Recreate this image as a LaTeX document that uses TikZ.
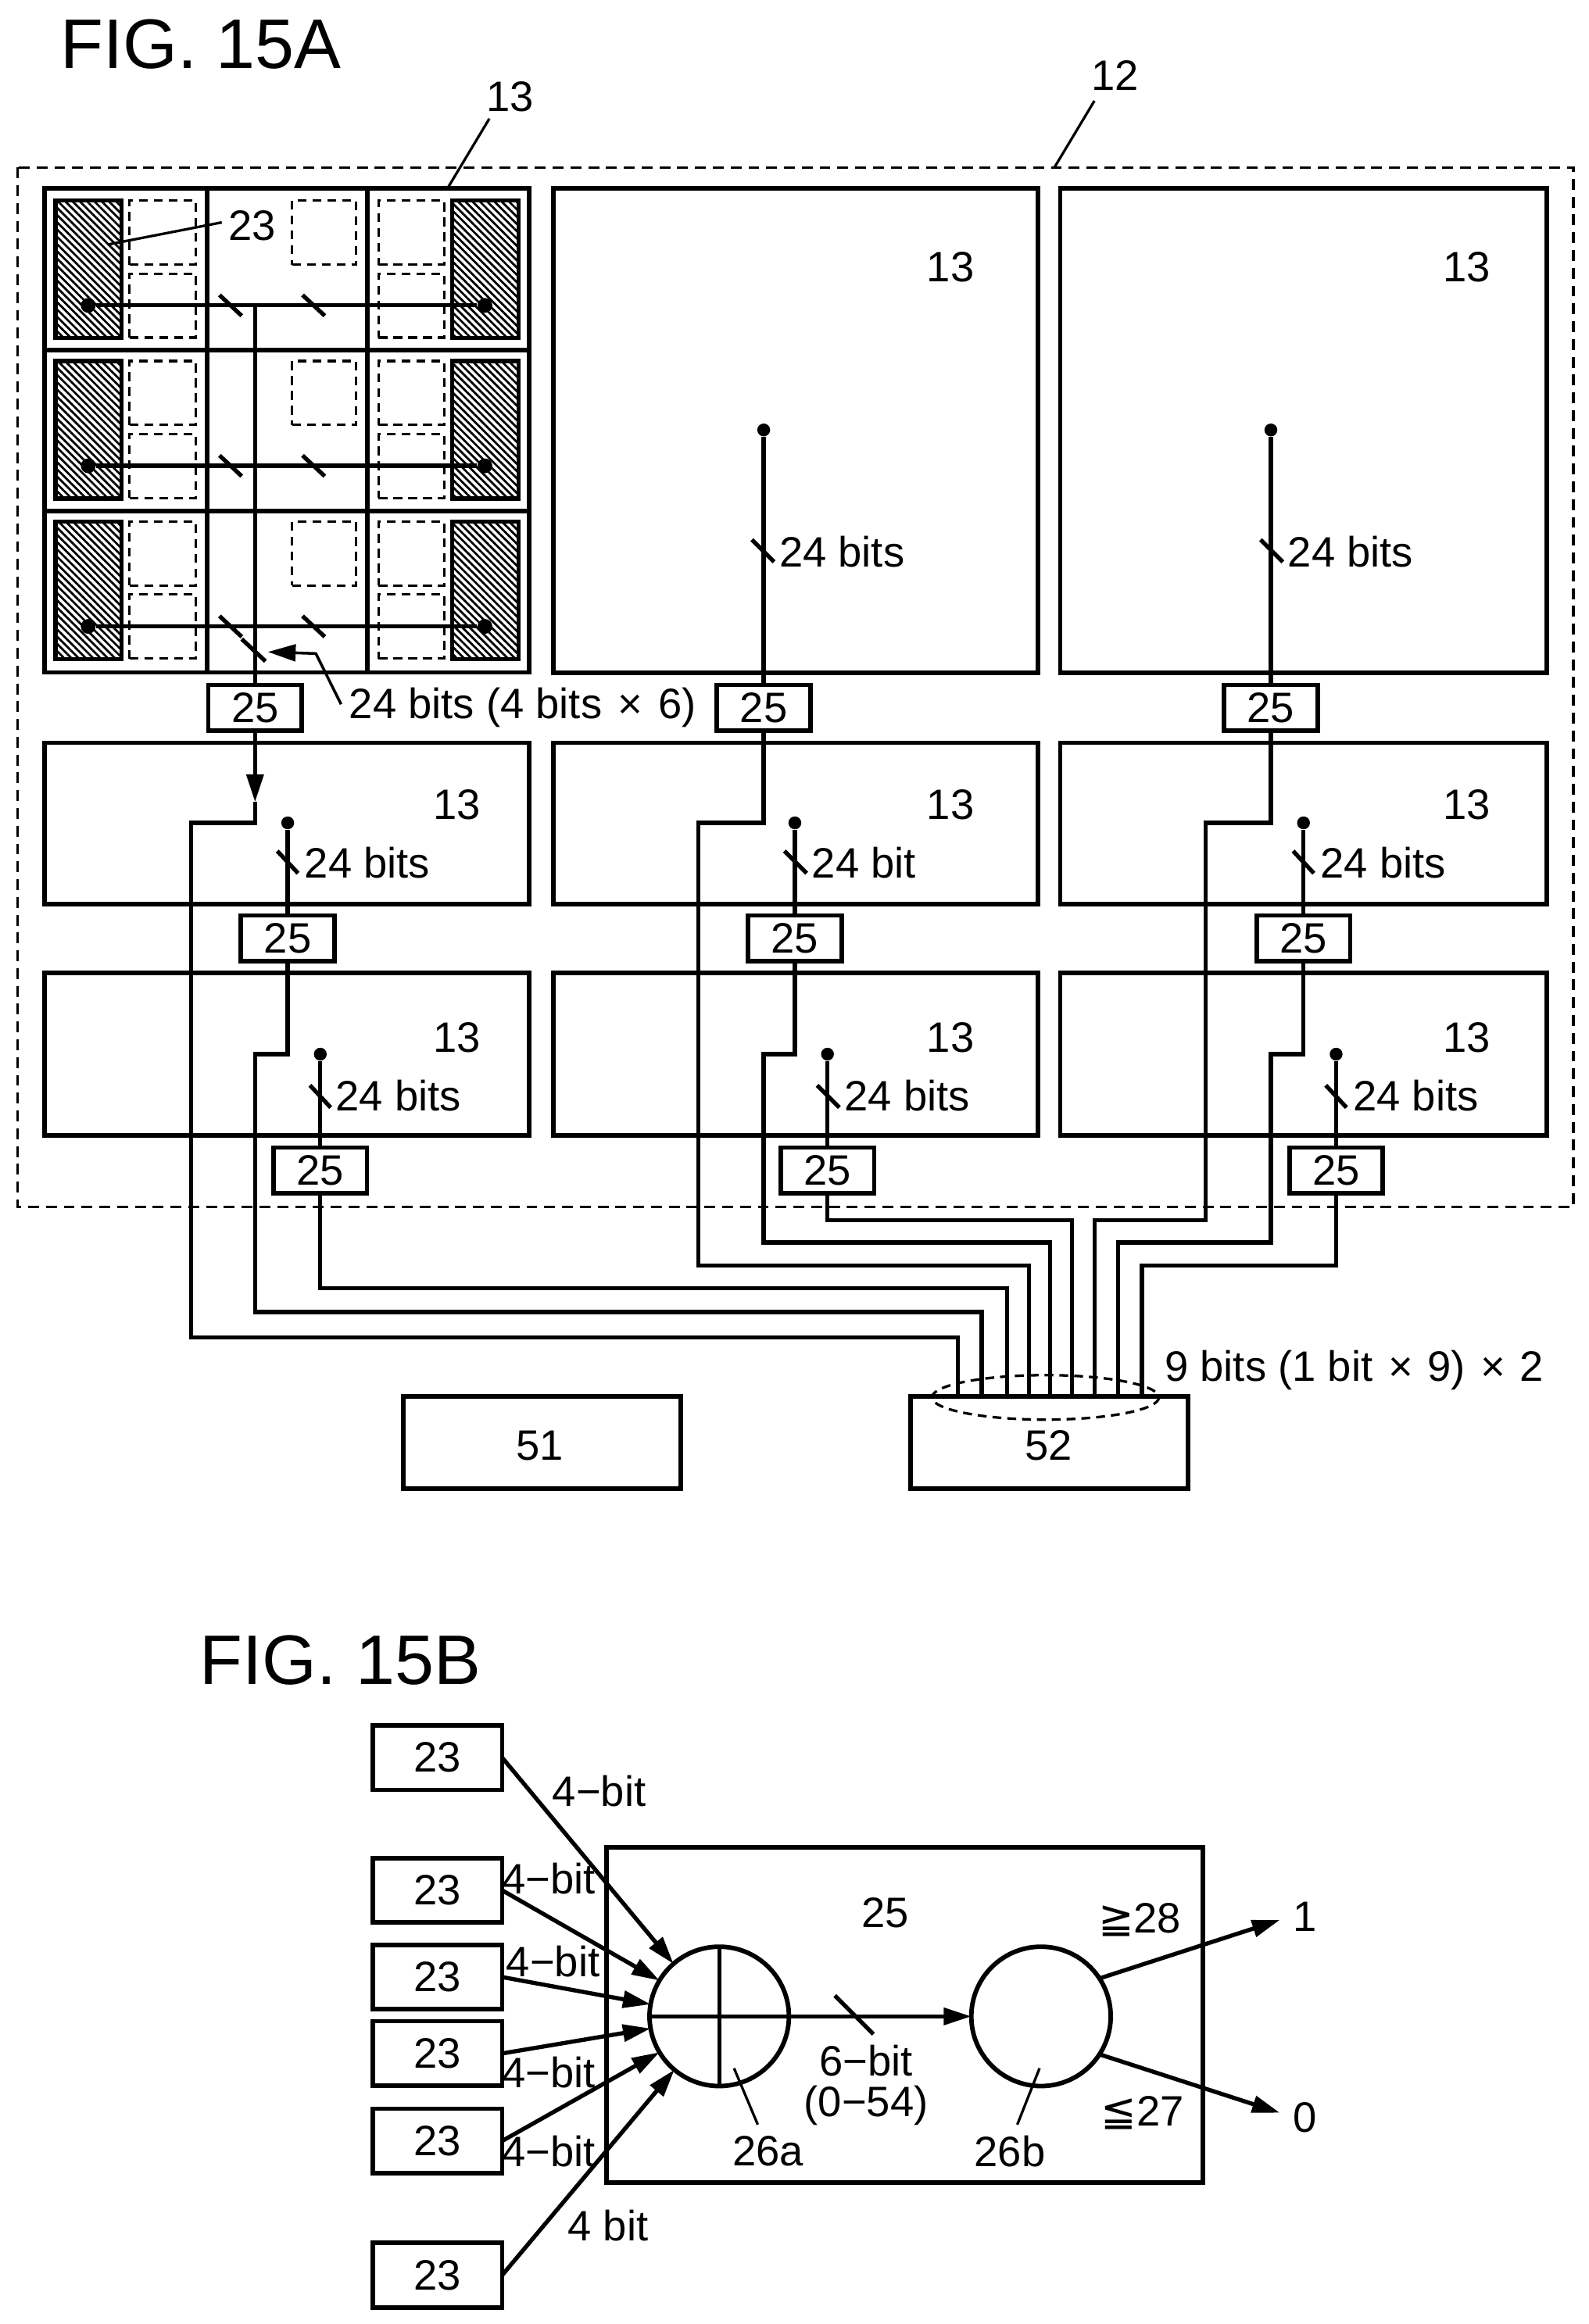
\documentclass[tikz,border=0pt]{standalone}
\usepackage{fontspec}
\setmainfont{Liberation Sans}
\newfontfamily\symfont{DejaVu Sans}
\usetikzlibrary{arrows.meta,patterns.meta}

\tikzset{every picture/.style={line width=0.75pt}}
\tikzset{
  sized/.style 2 args={minimum width=#1*0.75pt,minimum height=#2*0.75pt},
  lbl/.style={inner sep=0pt,font=\fontsize{21.5}{24}\selectfont},
  blockbox/.style={draw,line width=2.3pt,inner sep=0pt,outer sep=0pt,anchor=north west},
  cellbox/.style={lbl,draw,line width=2.3pt,outer sep=0pt,fill=white,minimum width=47.25pt,minimum height=23.25pt},
  srcbox/.style={lbl,draw,line width=2.3pt,outer sep=0pt,minimum width=65.5pt,minimum height=32.6pt},
  hatchbox/.style={draw,line width=2.2pt,inner sep=0pt,outer sep=0pt,anchor=north west,sized={44.6}{92.7},
    pattern={Lines[angle=-45,distance=2.6pt,line width=1.1pt]}},
  ghostbox/.style={draw,line width=1.2pt,dash pattern=on 4.5pt off 3pt,inner sep=0pt,outer sep=0pt,anchor=north west},
  wire/.style={line width=2.1pt},
  leader/.style={line width=1.3pt},
  tickmark/.style={line width=2.1pt},
  sigdot/.style={circle,fill=black,inner sep=0pt,minimum size=6.5pt},
  figtitle/.style={inner sep=0pt,font=\fontsize{35.5}{40}\selectfont},
  headtip/.style={-{Triangle[length=14pt,width=8.5pt]}},
}

\begin{document}
\begin{tikzpicture}[x=0.75pt,y=0.75pt,yscale=-1,xscale=1]
    \useasboundingbox (0,0) rectangle (1071.5,1567.5);

    % FIG. 15A
    \node[figtitle] (titleA) at (135.5,30) {FIG. 15A};
    \draw[ghostbox,line width=1.3pt,dash pattern=on 5.5pt off 3.5pt] (12,113) rectangle (1061,814);
    \node[lbl] (lbl12) at (752,51) {12};
    \node[lbl] (lbl13top) at (344,65) {13};
    \coordinate (lead12) at (711,113);
    \coordinate (lead13) at (302.4,126);
    \draw[leader] (lead12) -- (738,68);
    \draw[leader] (lead13) -- (330,80);

    % first block, cut in three rows
    \node[blockbox,sized={327}{326.5}] (blkA) at (30,127) {};
    \draw[line width=2.3pt] (30,236) -- (357,236);
    \draw[line width=2.3pt] (30,344.7) -- (357,344.7);
    \draw[line width=2.3pt] (139.6,127) -- (139.6,453.5);
    \draw[line width=2.3pt] (247.6,127) -- (247.6,453.5);
    \foreach \r/\dy in {1/0,2/108.2,3/216.5}{
      \node[hatchbox] (hatchL\r) at ({37.4},{135.3+\dy}) {};
      \node[hatchbox] (hatchR\r) at ({305},{135.3+\dy}) {};
      \node[ghostbox,sized={44.6}{43.2}] (ghostLa\r) at ({87.4},{135.3+\dy}) {};
      \node[ghostbox,sized={44.6}{43.2}] (ghostLb\r) at ({87.4},{184.5+\dy}) {};
      \node[ghostbox,sized={43.3}{43.2}] (ghostM\r) at ({197},{135.3+\dy}) {};
      \node[ghostbox,sized={44.2}{43.2}] (ghostRa\r) at ({255.3},{135.3+\dy}) {};
      \node[ghostbox,sized={44.2}{43.2}] (ghostRb\r) at ({255.3},{184.5+\dy}) {};
      \node[sigdot,minimum size=7.5pt] (dotL\r) at ({59.5},{206+\dy}) {};
      \node[sigdot,minimum size=7.5pt] (dotR\r) at ({327},{206+\dy}) {};
      \draw[wire] (dotL\r) -- (dotR\r);
      \draw[tickmark] ({148},{199+\dy}) -- ({163},{213+\dy});
      \draw[tickmark] ({204},{199+\dy}) -- ({219},{213+\dy});
    }
    \draw[tickmark] (163,431) -- (179,446);
    \node[lbl,fill=none] (lbl23) at (170,152) {23};
    \draw[leader] (lbl23.west) ++(-4,-2) -- (72.5,165);

    % remaining blocks
    \node[blockbox,sized={327}{327}] (blkB) at (373,127) {};
    \node[blockbox,sized={328}{327}] (blkC) at (715,127) {};
    \node[blockbox,sized={327}{109}] (blkD) at (30,501) {};
    \node[blockbox,sized={327}{109}] (blkE) at (373,501) {};
    \node[blockbox,sized={328}{109}] (blkF) at (715,501) {};
    \node[blockbox,sized={327}{110}] (blkG) at (30,656) {};
    \node[blockbox,sized={327}{110}] (blkH) at (373,656) {};
    \node[blockbox,sized={328}{110}] (blkJ) at (715,656) {};
    \foreach \n/\x/\y in {a/641/180,b/989/180,c/308/543,d/641/543,e/989/543,f/308/700,g/641/700,h/989/700}
      \node[lbl] (lbl13\n) at (\x,\y) {13};

    % threshold cells
    \node[cellbox] (cellA) at (172,477.5) {25};
    \node[cellbox] (cellB) at (515,477.5) {25};
    \node[cellbox] (cellC) at (857,477.5) {25};
    \node[cellbox] (cellD) at (194,633) {25};
    \node[cellbox] (cellE) at (536,633) {25};
    \node[cellbox] (cellF) at (879,633) {25};
    \node[cellbox] (cellG) at (216,789.5) {25};
    \node[cellbox] (cellH) at (558,789.5) {25};
    \node[cellbox] (cellJ) at (901,789.5) {25};
    \foreach \n/\x/\y in {B/515/290,C/857/290,D/194/555,E/536/555,F/879/555,G/216/711,H/558/711,J/901/711}{
      \node[sigdot] (src\n) at (\x,\y) {};
      \draw[wire] (src\n) -- (cell\n);
    }
    \coordinate (trunkTop) at (172,206);
    \draw[wire] (trunkTop) -- (cellA);

    % bit count labels
    \draw[tickmark] (507,364) -- (522,379);
    \draw[tickmark] (850,364) -- (865,379);
    \node[lbl,anchor=west] (bitsB) at (525,372) {24 bits};
    \node[lbl,anchor=west] (bitsC) at (868,372) {24 bits};
    \draw[tickmark] (187,574) -- (201,589);
    \draw[tickmark] (529,574) -- (544,589);
    \draw[tickmark] (872,574) -- (886,589);
    \node[lbl,anchor=west] (bitsD) at (205,582) {24 bits};
    \node[lbl,anchor=west] (bitsE) at (547,582) {24 bit};
    \node[lbl,anchor=west] (bitsF) at (890,582) {24 bits};
    \draw[tickmark] (209,732) -- (223,747);
    \draw[tickmark] (551,732) -- (566,747);
    \draw[tickmark] (894,732) -- (908,747);
    \node[lbl,anchor=west] (bitsG) at (226,739) {24 bits};
    \node[lbl,anchor=west] (bitsH) at (569,739) {24 bits};
    \node[lbl,anchor=west] (bitsJ) at (912,739) {24 bits};
    \node[lbl,anchor=west] (bitsSum) at (235,477) {24 bits (4 bits\hspace{8pt}×\hspace{8pt}6)};
    \coordinate (bitsTip) at (180.7,439.7);
    \draw[leader,line width=1.4pt,headtip] (230,475) -- (213,440.8) -- (bitsTip);

    % collector and lines into it
    \node[blockbox,sized={187}{62}] (collect) at (614,942) {};
    \node[lbl] (lbl52) at (707,975) {52};
    \node[blockbox,sized={187}{62}] (unit51) at (272,942) {};
    \node[lbl] (lbl51) at (364,975) {51};
    \foreach \i/\x in {1/646,2/662,3/679,4/694,5/708,6/723,7/738,8/754,9/770}
      \coordinate (in\i) at (\x,942);
    \coordinate (arrowEnd) at (172,541);
    \draw[wire,headtip] (cellA) -- (arrowEnd);
    \draw[wire] (arrowEnd) -- (172,555) -- (129,555) -- (129,902) -- (646,902) -- (in1);
    \draw[wire] (cellD) -- (194,711) -- (172,711) -- (172,885) -- (662,885) -- (in2);
    \draw[wire] (cellG) -- (216,869) -- (679,869) -- (in3);
    \draw[wire] (cellB) -- (515,555) -- (471,555) -- (471,853.5) -- (694,853.5) -- (in4);
    \draw[wire] (cellE) -- (536,711) -- (515,711) -- (515,838) -- (708,838) -- (in5);
    \draw[wire] (cellH) -- (558,823) -- (723,823) -- (in6);
    \draw[wire] (cellC) -- (857,555) -- (813,555) -- (813,823) -- (738,823) -- (in7);
    \draw[wire] (cellF) -- (879,711) -- (857,711) -- (857,838) -- (754,838) -- (in8);
    \draw[wire] (cellJ) -- (901,853.5) -- (770,853.5) -- (in9);
    \draw[leader,dash pattern=on 4.5pt off 3pt] (705,942.5) ellipse [x radius=76.5,y radius=15];
    \node[lbl,anchor=west] (bitsBus) at (785,924) {9 bits (1 bit\hspace{8pt}×\hspace{7pt}9)\hspace{8pt}×\hspace{7pt}2};

    % FIG. 15B
    \node[figtitle] (titleB) at (229.5,1120) {FIG. 15B};
    \node[blockbox,sized={402}{226}] (cellBig) at (409,1246) {};
    \node[lbl] (lbl25) at (597,1290) {25};
    \foreach \i/\y in {1/1185.5,2/1275,3/1333.5,4/1385,5/1444,6/1534.5}
      \node[srcbox] (src23\i) at (295,\y) {23};
    \node[circle,draw,line width=2.3pt,minimum size=70.5pt,inner sep=0pt,outer sep=0pt] (adder) at (485,1360) {};
    \node[circle,draw,line width=2.3pt,minimum size=70.5pt,inner sep=0pt,outer sep=0pt] (compare) at (702,1360) {};
    \draw[wire] (adder.north) -- (adder.south);
    \draw[wire] (adder.west) -- (adder.east);
    \draw[wire,headtip] (adder.east) -- (compare.west);
    \draw[tickmark] (563,1346) -- (589,1372);
    \draw[wire,headtip] (src231.east) -- (adder.131);
    \draw[wire,headtip] (src232.east) -- (adder.149);
    \draw[wire,headtip] (src233.east) -- (adder.170);
    \draw[wire,headtip] (src234.east) -- (adder.190);
    \draw[wire,headtip] (src235.east) -- (adder.211);
    \draw[wire,headtip] (src236.east) -- (adder.230);
    \node[lbl] (bit1) at (404,1208) {4−bit};
    \node[lbl] (bit2) at (370,1267) {4−bit};
    \node[lbl] (bit3) at (373,1323) {4−bit};
    \node[lbl] (bit4) at (370,1398) {4−bit};
    \node[lbl] (bit5) at (370,1451) {4−bit};
    \node[lbl] (bit6) at (410,1501) {4 bit};
    \node[lbl] (bit7) at (584,1390) {6−bit};
    \node[lbl] (bit8) at (584,1420) {(0−54)};
    \node[lbl] (lbl26a) at (518,1451) {26a};
    \node[lbl] (lbl26b) at (681,1451) {26b};
    \draw[leader] (495,1395) -- (511,1433);
    \draw[leader] (701,1395) -- (686,1433);
    \node[lbl,anchor=east] (geq) at (797,1295) {{\symfont ≧}28};
    \node[lbl,anchor=east] (leq) at (799,1425) {{\symfont ≦}27};
    \node[lbl] (out1) at (880,1293) {1};
    \node[lbl] (out0) at (880,1428) {0};
    \coordinate (tipOne) at (863,1295);
    \coordinate (tipZero) at (863,1425);
    \draw[wire,headtip] (compare.33) -- (tipOne);
    \draw[wire,headtip] (compare.-33) -- (tipZero);
\end{tikzpicture}
\end{document}
